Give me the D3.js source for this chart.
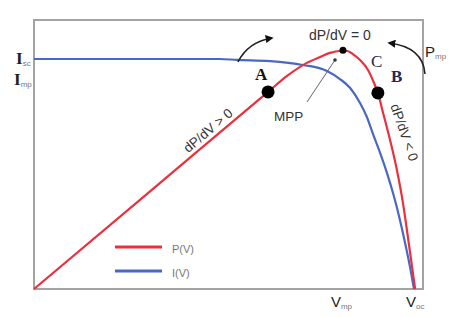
<!DOCTYPE html>
<meta charset="utf-8">
<style>
body { margin: 0; background: #fff; }
svg { font-family: "Liberation Sans", Arial, sans-serif; }
.frame { fill: none; stroke: #a3a3a3; stroke-width: 2; }
.pv { fill: none; stroke: #ec2f3d; stroke-width: 2.2; }
.iv { fill: none; stroke: #4a67c6; stroke-width: 2.2; }
.ann { fill: #333; font-size: 13px; }
.serif { font-family: "Liberation Serif", "Times New Roman", serif; font-weight: bold; }
.sub { fill: #777; font-size: 8px; }
</style>
<svg width="466" height="317"></svg>
<script src="https://cdn.jsdelivr.net/npm/d3@7"></script>
<script>
// voltage in % of Voc, current in % of Isc, power in % of Pmax
var voltI = [0, 30.5, 48.9, 53.4, 62.1, 70.8, 77.1, 80.5, 83.2, 85.8, 87.6, 89.2, 91.1, 92.9, 94.7, 96.3, 97.6, 98.9, 100];
var current = [100, 100, 100, 99.6, 99.1, 97.4, 94.8, 91.3, 87.4, 80.9, 74.8, 67.4, 59.1, 50.4, 40.4, 30.0, 20.4, 10.0, 0];

var voltP = [0, 30, 61.6, 66.6, 71.8, 75.3, 77.9, 80.5, 82.4, 83.9, 85.8, 87.9, 89.7, 90.5, 91.8, 93.7, 95.5, 97.1, 98.4, 99.5, 100.3];
var power = [0, 40.3, 82.8, 89.5, 95.0, 97.5, 99.2, 100, 100, 98.7, 96.2, 92.0, 85.7, 82.4, 74.4, 62.6, 50.0, 36.1, 21.8, 9.2, 0];

// operating points on P(V): A, MPP, B
var pointNames = ['A', 'MPP', 'B'];
var pointV = [61.6, 81.3, 90.5];
var pointP = [82.8, 100.3, 82.4];

var vmp = 81.3, voc = 100, imp = 92;
var legendNames = ['P(V)', 'I(V)'];

var svg = d3.select('svg');
var x = d3.scaleLinear().domain([0, 100]).range([34, 414]);
var yI = d3.scaleLinear().domain([0, 100]).range([289, 59]);
var yP = d3.scaleLinear().domain([0, 100]).range([289, 51]);

svg.append('defs').append('marker')
  .attr('id', 'head')
  .attr('viewBox', '0 0 10 10')
  .attr('refX', 8).attr('refY', 5)
  .attr('markerWidth', 5).attr('markerHeight', 5)
  .attr('orient', 'auto')
  .append('path').attr('d', 'M0,0L10,5L0,10z').attr('fill', '#111');

svg.append('rect').attr('class', 'frame')
  .attr('x', 34).attr('y', 20).attr('width', 389).attr('height', 269);

var lineI = d3.line()
  .x(function (d, i) { return x(voltI[i]); })
  .y(function (d) { return yI(d); })
  .curve(d3.curveMonotoneX);
var lineP = d3.line()
  .x(function (d, i) { return x(voltP[i]); })
  .y(function (d) { return yP(d); })
  .curve(d3.curveMonotoneX);

svg.append('path').attr('class', 'iv').attr('d', lineI(current));
svg.append('path').attr('class', 'pv').attr('d', lineP(power));

// points
svg.selectAll('.pt')
  .data(pointNames)
  .enter()
  .append('circle')
  .attr('cx', function (d, i) { return x(pointV[i]); })
  .attr('cy', function (d, i) { return yP(pointP[i]); })
  .attr('r', function (d) { return d === 'MPP' ? 3.5 : 6.5; })
  .attr('fill', '#000');

// y labels
function subLabel(px, py, main, sub, cls, size) {
  var t = svg.append('text').attr('x', px).attr('y', py);
  t.append('tspan').attr('class', cls).style('font-size', size + 'px').attr('fill', '#222').text(main);
  t.append('tspan').attr('class', 'sub').attr('dy', 2).text(sub);
}
subLabel(16, yI(100) + 5, 'I', 'sc', 'serif', 17);
subLabel(14, yI(imp) + 8, 'I', 'mp', 'serif', 17);
subLabel(x(vmp) - 12, 307, 'V', 'mp', '', 15);
subLabel(x(voc) - 8, 307, 'V', 'oc', '', 15);
subLabel(425, 57, 'P', 'mp', '', 15);

// annotations
svg.append('text').attr('class', 'ann').attr('text-anchor', 'middle')
  .attr('x', x(vmp) - 3).attr('y', 40).style('font-size', '14px').text('dP/dV = 0');
svg.append('text').attr('class', 'ann').attr('x', 274).attr('y', 121).style('font-size', '13.5px').text('MPP');
svg.append('line').attr('x1', 307).attr('y1', 102).attr('x2', 335).attr('y2', 60)
  .attr('stroke', '#666').attr('stroke-width', 1);
svg.append('circle').attr('cx', 335).attr('cy', 60).attr('r', 1.8).attr('fill', '#333');

svg.append('text').attr('class', 'ann').attr('text-anchor', 'middle')
  .attr('transform', 'translate(211,134) rotate(-40.5)').style('font-size', '13.5px').text('dP/dV > 0');
svg.append('text').attr('class', 'ann').attr('text-anchor', 'middle')
  .attr('transform', 'translate(400,134) rotate(71)').style('font-size', '13.5px').text('dP/dV < 0');

svg.append('text').attr('class', 'serif').attr('x', 255).attr('y', 80).style('font-size', '17px').attr('fill', '#111').text('A');
svg.append('text').attr('class', 'serif').attr('x', 371).attr('y', 67).style('font-size', '17px').style('font-weight', 'normal').attr('fill', '#1d2552').text('C');
svg.append('text').attr('class', 'serif').attr('x', 391).attr('y', 82).style('font-size', '17px').attr('fill', '#1d2a5c').text('B');

svg.append('path').attr('d', 'M238,62 Q248,42 272,38')
  .attr('fill', 'none').attr('stroke', '#222').attr('stroke-width', 1.6).attr('marker-end', 'url(#head)');
svg.append('path').attr('d', 'M425,74 Q423,47 389,43')
  .attr('fill', 'none').attr('stroke', '#222').attr('stroke-width', 1.6).attr('marker-end', 'url(#head)');

// legend
var legend = svg.selectAll('.leg')
  .data(legendNames)
  .enter()
  .append('g')
  .attr('transform', function (d, i) { return 'translate(115,' + (247 + i * 24) + ')'; });
legend.append('line').attr('x1', 0).attr('x2', 47)
  .attr('stroke', function (d, i) { return i === 0 ? '#ec2f3d' : '#4a67c6'; })
  .attr('stroke-width', 3);
legend.append('text').attr('x', 57).attr('y', 6).attr('fill', '#777').style('font-size', '11px')
  .text(function (d) { return d; });
</script>
